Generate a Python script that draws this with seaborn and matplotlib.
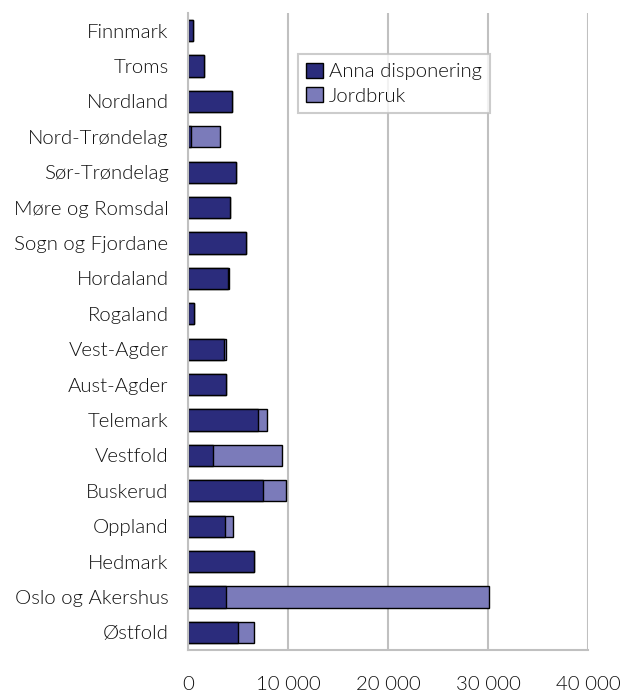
import numpy as np
import pandas as pd
import matplotlib
matplotlib.use("Agg")
import matplotlib.pyplot as plt
from matplotlib.patches import Patch
from matplotlib.ticker import FuncFormatter
import seaborn as sns

# Data
fylke = ["Finnmark", "Troms", "Nordland", "Nord-Trøndelag", "Sør-Trøndelag",
         "Møre og Romsdal", "Sogn og Fjordane", "Hordaland", "Rogaland",
         "Vest-Agder", "Aust-Agder", "Telemark", "Vestfold", "Buskerud",
         "Oppland", "Hedmark", "Oslo og Akershus", "Østfold"]
anna = [500, 1600, 4400, 250, 4800, 4200, 5750, 4000, 550,
        3550, 3800, 6950, 2450, 7450, 3650, 6550, 3750, 4950]
jordbruk = [0, 0, 0, 2950, 0, 0, 0, 100, 0,
            250, 0, 900, 6900, 2300, 850, 0, 26300, 1600]
xticks = [0, 10000, 20000, 30000, 40000]

c_anna = "#2B2C7C"
c_jord = "#7B7BBA"
grey = "#C0C0C0"

df = pd.DataFrame({"fylke": fylke, "anna": anna, "jordbruk": jordbruk})
df["total"] = df["anna"] + df["jordbruk"]

sns.set_style("white")
plt.rcParams["font.family"] = ["Lato", "DejaVu Sans"]
plt.rcParams["font.weight"] = 300
fs = 14.7

fig = plt.figure(figsize=(6.22, 6.95), dpi=100)
ax = fig.add_axes([188 / 622, 1 - 650 / 695, 400 / 622, 637 / 695])

# stacked bars: total in light colour, "anna" drawn on top from zero
sns.barplot(x="total", y="fylke", data=df, color=c_jord, edgecolor="black",
            linewidth=1, width=0.6, saturation=1, ax=ax)
sns.barplot(x="anna", y="fylke", data=df, color=c_anna, edgecolor="black",
            linewidth=1, width=0.6, saturation=1, ax=ax)

ax.set_xlim(0, 40000)
ax.set_ylim(len(fylke) - 0.5, -0.5)
ax.set_xticks(xticks)
ax.xaxis.set_major_formatter(FuncFormatter(lambda v, p: f"{int(v):,}".replace(",", " ")))
ax.xaxis.grid(True, color=grey, lw=1.5)
ax.set_axisbelow(True)
ax.set_xlabel("")
ax.set_ylabel("")

for s in ["top", "right"]:
    ax.spines[s].set_visible(False)
for s in ["left", "bottom"]:
    ax.spines[s].set_color(grey)
    ax.spines[s].set_linewidth(1.5)

ax.tick_params(axis="x", length=5, width=1.5, color=grey, pad=14, labelsize=fs,
               labelcolor="#111111")
ax.tick_params(axis="y", which="major", length=0, pad=14, labelsize=fs,
               labelcolor="#111111")
ax.set_yticks(np.arange(-0.5, len(fylke), 1), minor=True)
ax.tick_params(axis="y", which="minor", length=5, width=1.5, color=grey)

handles = [Patch(facecolor=c_anna, edgecolor="black", label="Anna disponering"),
           Patch(facecolor=c_jord, edgecolor="black", label="Jordbruk")]
leg = ax.legend(handles=handles, loc="upper left", bbox_to_anchor=(0.275, 0.935),
                fontsize=fs, fancybox=False, frameon=True, borderpad=0.4,
                handlelength=0.8, handleheight=0.8, handletextpad=0.3,
                labelspacing=0.3, borderaxespad=0)
leg.get_frame().set_edgecolor(grey)
leg.get_frame().set_linewidth(1.5)
for t in leg.get_texts():
    t.set_color("#111111")

fig.savefig("out.png", dpi=100)
